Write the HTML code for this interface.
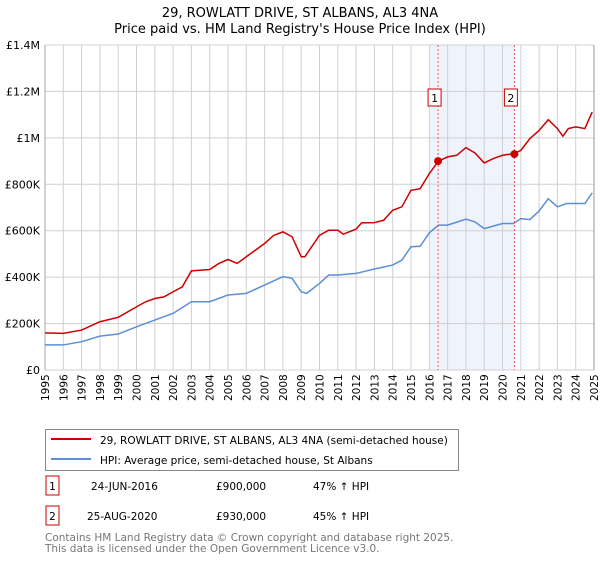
<!DOCTYPE html>
<html><head><meta charset="utf-8"><style>
body{margin:0;background:#fff;font-family:"DejaVu Sans","Liberation Sans",sans-serif;}
svg text{font-family:"DejaVu Sans","Liberation Sans",sans-serif;}
</style></head><body>
<svg id="chart" width="600" height="560" xmlns="http://www.w3.org/2000/svg">
<text x="300" y="17" text-anchor="middle" font-size="13">29, ROWLATT DRIVE, ST ALBANS, AL3 4NA</text>
<text x="300" y="33" text-anchor="middle" font-size="13">Price paid vs. HM Land Registry's House Price Index (HPI)</text>
<g id="plot"></g>
<g>
<rect x="45.5" y="429.5" width="413" height="41" fill="#fff" stroke="#888"/>
<line x1="51" y1="439" x2="91" y2="439" stroke="#cc0000" stroke-width="2"/>
<text x="100" y="444" font-size="10.5">29, ROWLATT DRIVE, ST ALBANS, AL3 4NA (semi-detached house)</text>
<line x1="51" y1="459" x2="91" y2="459" stroke="#5b8fd6" stroke-width="2"/>
<text x="100" y="464" font-size="10.5">HPI: Average price, semi-detached house, St Albans</text>
</g>
<g font-size="10.5">
<rect x="46" y="476" width="13" height="19" fill="#fff" stroke="#cc0000"/>
<text x="52.5" y="490" text-anchor="middle">1</text>
<text x="91" y="490">24-JUN-2016</text><text x="216" y="490">£900,000</text><text x="313" y="490">47% ↑ HPI</text>
<rect x="46" y="506" width="13" height="19" fill="#fff" stroke="#cc0000"/>
<text x="52.5" y="520" text-anchor="middle">2</text>
<text x="87" y="520">25-AUG-2020</text><text x="216" y="520">£930,000</text><text x="313" y="520">45% ↑ HPI</text>
</g>
<text x="45" y="541" font-size="10.5" fill="#777">Contains HM Land Registry data © Crown copyright and database right 2025.</text>
<text x="45" y="552" font-size="10.5" fill="#777">This data is licensed under the Open Government Licence v3.0.</text>
</svg>
<script>
const years=[1995,1996,1997,1998,1999,2000,2000.5,2001,2001.5,2002,2002.5,2003,2004,2004.5,2005,2005.5,2006,2007,2007.5,2008,2008.5,2009,2009.2,2010,2010.5,2011,2011.3,2012,2012.3,2013,2013.5,2014,2014.5,2015,2015.5,2016,2016.5,2017,2017.5,2018,2018.5,2019,2019.5,2020,2020.6,2021,2021.5,2022,2022.5,2023,2023.3,2023.6,2024,2024.5,2024.9];
const priceSeries=[160,158,172,208,227,272,294,308,315,337,358,427,433,459,476,459,488,545,580,595,574,488,488,580,602,602,585,607,634,635,645,688,703,774,781,846,900,918,925,958,935,892,911,925,932,946,997,1032,1078,1040,1007,1040,1047,1040,1111];
const hpiYears=[1995,1996,1997,1998,1999,2000,2001,2002,2003,2004,2005,2006,2007,2008,2008.5,2009,2009.3,2010,2010.5,2011,2012,2013,2014,2014.5,2015,2015.5,2016,2016.5,2017,2018,2018.5,2019,2020,2020.6,2021,2021.5,2022,2022.5,2023,2023.5,2024,2024.5,2024.9];
const hpiSeries=[108,108,122,146,155,186,215,244,294,294,323,330,366,402,395,337,330,373,409,409,416,435,452,473,531,533,591,624,624,650,638,609,631,631,652,648,685,738,703,717,717,717,763];
const yTicks=[0,200,400,600,800,1000,1200,1400];
const yTickLabels=["£0","£200K","£400K","£600K","£800K","£1M","£1.2M","£1.4M"];
const xTicks=[1995,1996,1997,1998,1999,2000,2001,2002,2003,2004,2005,2006,2007,2008,2009,2010,2011,2012,2013,2014,2015,2016,2017,2018,2019,2020,2021,2022,2023,2024,2025];
const saleYears=[2016.48,2020.65];
const saleValues=[900,930];
const saleLabels=["1","2"];
const X0=45,X1=594,Y0=370,Y1=45;
const sx=y=>X0+(y-1995)/30*(X1-X0);
const sy=v=>Y0-v/1400*(Y0-Y1);
const NS="http://www.w3.org/2000/svg";
const g=document.getElementById('plot');
function mk(t,a){const e=document.createElementNS(NS,t);for(const k in a)e.setAttribute(k,a[k]);g.appendChild(e);return e;}
const sh=mk('rect',{x:sx(2016),y:Y1,width:sx(saleYears[1])-sx(2016),height:Y0-Y1,fill:'#eef3fc'});


xTicks.forEach(t=>{const l=mk('line',{x1:sx(t),x2:sx(t),y1:Y1,y2:Y0,stroke:'#d0d0d0'});


const tx=mk('text',{x:0,y:0,'font-size':10.5,transform:`translate(${sx(t)+4},${Y0+31}) rotate(-90)`});tx.textContent=t;

});
yTicks.forEach((t,i)=>{const l=mk('line',{x1:X0,x2:X1,y1:sy(t),y2:sy(t),stroke:'#d0d0d0'});


const tx=mk('text',{x:X0-5,y:sy(t)+4,'font-size':11,'text-anchor':'end'});tx.textContent=yTickLabels[i];

});
const ax=mk('line',{x1:X0,x2:X0,y1:Y1,y2:Y0,stroke:'#aaa'});


const ed=mk('line',{x1:X1,x2:X1,y1:Y1,y2:Y0,stroke:'#999'});


const hp=mk('polyline',{points:hpiYears.map((y,i)=>sx(y)+','+sy(hpiSeries[i])).join(' '),fill:'none',stroke:'#5b8fd6','stroke-width':1.5});


const pr=mk('polyline',{points:years.map((y,i)=>sx(y)+','+sy(priceSeries[i])).join(' '),fill:'none',stroke:'#cc0000','stroke-width':1.5});


saleYears.forEach((y,i)=>{const l=mk('line',{x1:sx(y),x2:sx(y),y1:Y1,y2:Y0,stroke:'#e55','stroke-dasharray':'2,2'});


const c=mk('circle',{cx:sx(y),cy:sy(saleValues[i]),r:4,fill:'#cc0000'});


const b=mk('rect',{x:sx(y)-10,y:89,width:13,height:17,fill:'#fff',stroke:'#cc0000'});


const t=mk('text',{x:sx(y)-3.5,y:102,'font-size':11,'text-anchor':'middle'});t.textContent=saleLabels[i];

});
</script>
</body></html>
